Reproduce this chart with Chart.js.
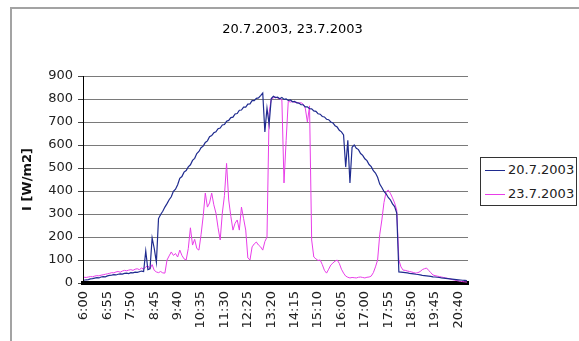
<!DOCTYPE html>
<html><head><meta charset="utf-8">
<script src="https://cdn.jsdelivr.net/npm/chart.js@4.4.1/dist/chart.umd.min.js"></script>
<style>
html,body{margin:0;padding:0;background:#fff;overflow:hidden;width:579px;height:341px;}
#frame{position:absolute;left:10px;top:7px;width:700px;height:500px;border:2px solid #a3a3a3;box-sizing:border-box;}
#wrap{position:absolute;left:0;top:0;width:579px;height:341px;}
#legend{position:absolute;left:480px;top:157px;width:97px;height:49px;border:1px solid #333;box-sizing:border-box;font-family:"DejaVu Sans";font-size:13px;color:#222;background:#fff;}
.item{position:absolute;left:4px;height:16px;line-height:16px;white-space:nowrap;}
.swatch{display:inline-block;width:20px;height:0;border-top:1.5px solid;vertical-align:middle;margin-right:3px;}
</style></head>
<body>
<div id="frame"></div>
<div id="wrap"><canvas id="c" width="579" height="341"></canvas></div>
<div id="legend"></div>
<script>
const chartTitle = '20.7.2003, 23.7.2003';
const yTitle = 'I [W/m2]';
const seriesNames = ['20.7.2003', '23.7.2003'];
const seriesColors = ['#1f2b8f', '#e83ee8'];
const tickLabels = ['6:00','6:55','7:50','8:45','9:40','10:35','11:30','12:25','13:20','14:15','15:10','16:05','17:00','17:55','18:50','19:45','20:40'];
const startMinute = 360;   // 6:00
const stepMinutes = 5;

const values20 = [
 12,14,15,18,19,21,23,22,26,28,
 27,31,33,34,36,35,38,40,39,42,
 43,41,45,44,47,46,49,52,50,139,
 58,62,196,150,90,280,298,312,330,345,
 362,375,399,408,427,455,463,482,489,
 505,514,533,542,563,572,588,595,611,618,
 636,641,653,657,671,674,687,689,703,707,
 719,721,735,737,751,752,765,765,778,779,
 793,793,803,805,815,826,657,760,690,802,
 812,806,808,801,807,798,800,794,796,788,
 790,783,782,775,775,766,766,758,757,748,
 746,736,734,724,722,712,710,700,696,684,
 678,664,657,644,504,620,435,590,600,586,
 580,563,555,540,532,515,506,488,478,460,
 430,415,398,388,372,362,344,332,304,
 48,47,46,45,44,42,41,40,38,37,
 35,33,32,31,30,29,27,26,25,24,
 22,21,20,19,18,17,16,15,14,13,
 12,11,10
];
const values23 = [
 25,24,26,28,27,30,32,31,34,36,
 38,40,42,45,44,48,50,47,52,55,
 53,56,58,55,60,62,58,65,60,70,
 75,62,80,55,48,45,50,44,43,100,
 118,135,120,128,113,143,120,105,100,
 150,240,165,190,150,143,210,290,391,330,
 348,391,340,304,240,187,304,380,520,361,
 290,230,260,274,230,330,280,230,109,100,
 157,170,178,165,157,143,180,200,740,800,
 805,808,804,800,795,435,620,790,787,789,
 785,786,782,784,778,760,700,770,187,113,
 105,98,100,80,55,43,60,78,87,95,
 100,85,60,43,30,25,22,24,23,22,
 25,26,24,22,25,26,30,45,70,100,
 210,274,350,396,404,390,370,348,317,
 100,70,56,55,52,50,48,45,43,45,
 50,58,62,65,55,45,35,32,30,28,
 26,24,22,20,18,15,13,11,9,7,
 6,5,4
];

// 5-minute category labels for each reading
const categories = values20.map((_, i) => {
  const m = startMinute + i * stepMinutes;
  return Math.floor(m / 60) + ':' + String(m % 60).padStart(2, '0');
});

const FONT = 'DejaVu Sans';

new Chart(document.getElementById('c').getContext('2d'), {
  type: 'line',
  data: {
    labels: categories,
    datasets: [
      { label: seriesNames[0], data: values20, borderColor: seriesColors[0], borderWidth: 1.2, pointRadius: 0, tension: 0, fill: false },
      { label: seriesNames[1], data: values23, borderColor: seriesColors[1], borderWidth: 1, pointRadius: 0, tension: 0, fill: false }
    ]
  },
  options: {
    responsive: false,
    animation: false,
    devicePixelRatio: 1,
    layout: { padding: { left: 6, right: 0, top: 0, bottom: 0 } },
    plugins: {
      legend: { display: false },
      tooltip: { enabled: false },
      title: {
        display: true, text: chartTitle, color: '#000',
        font: { family: FONT, size: 13, weight: 'normal' },
        padding: { top: 22, bottom: 38.4 }
      }
    },
    scales: {
      x: {
        type: 'category',
        offset: true,
        grid: { display: false, drawTicks: false },
        border: { display: true, color: '#000', width: 4 },
        ticks: { autoSkip: false, minRotation: 90, maxRotation: 90, padding: 8, color: '#222', font: { family: FONT, size: 13 } },
        afterBuildTicks: s => { s.ticks = s.ticks.filter(t => tickLabels.includes(categories[t.value])); },
        afterFit: s => { s.height = 58; }
      },
      y: {
        min: 0, max: 900,
        ticks: { stepSize: 100, padding: 5, color: '#222', font: { family: FONT, size: 13 } },
        grid: { color: '#7a7a7a', lineWidth: 1, tickLength: 5, tickColor: '#444' },
        border: { display: true, color: '#000', width: 1 },
        title: { display: true, text: yTitle, color: '#111', font: { family: FONT, size: 13, weight: 'bold' }, padding: { top: 14, bottom: 0 } },
        afterFit: s => { s.width = 77; }
      },
      side: {
        position: 'right', display: true,
        grid: { display: false, drawTicks: false },
        border: { display: false },
        ticks: { display: false },
        afterFit: s => { s.width = 111; }
      }
    }
  }
});

// legend
const leg = document.getElementById('legend');
seriesNames.forEach((name, i) => {
  const it = document.createElement('div');
  it.className = 'item';
  it.style.top = (4 + i * 24) + 'px';
  const sw = document.createElement('span');
  sw.className = 'swatch';
  sw.style.borderTopColor = seriesColors[i];
  it.appendChild(sw);
  it.appendChild(document.createTextNode(name));
  leg.appendChild(it);
});
</script>
</body></html>
